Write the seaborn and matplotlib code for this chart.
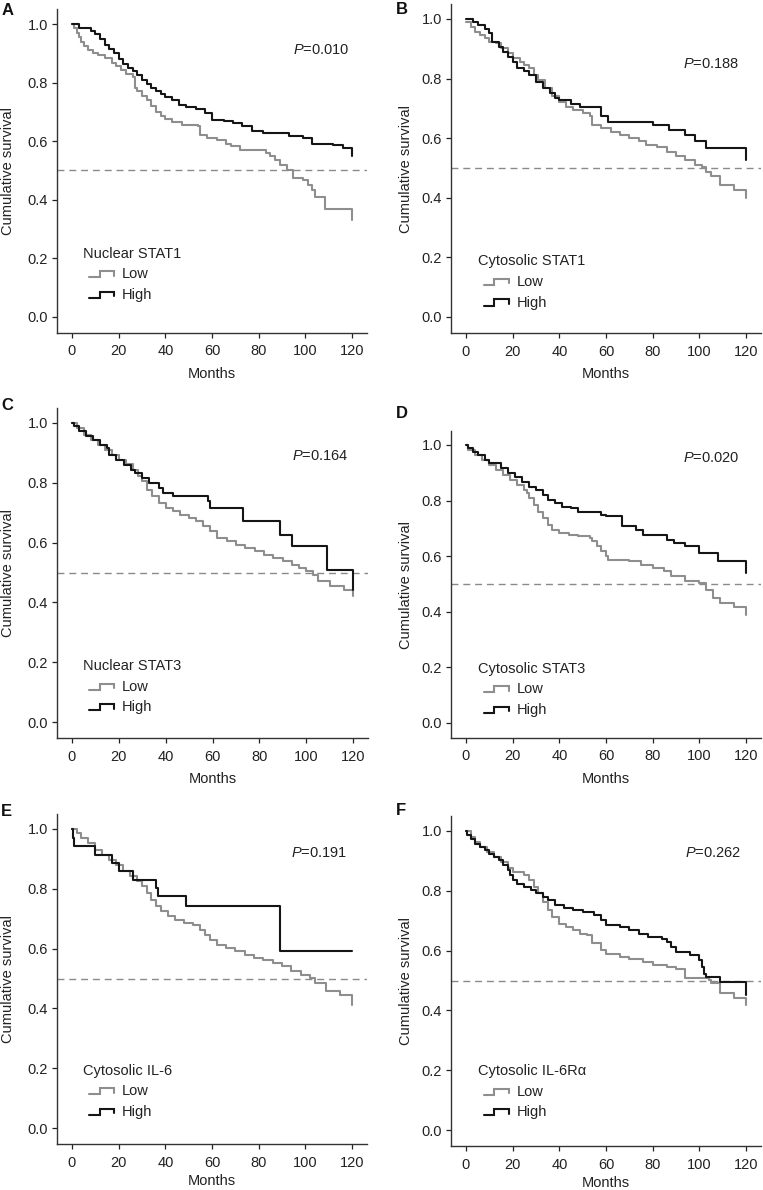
import numpy as np
import pandas as pd
import matplotlib
matplotlib.use("Agg")
import matplotlib.pyplot as plt
import seaborn as sns
from matplotlib.lines import Line2D
from matplotlib.legend_handler import HandlerLine2D

# ---- data (months, cumulative survival) ----
a_low_t = [0, 1, 2, 3, 4, 5, 7, 9, 11, 14, 17, 19, 21, 23, 26, 27, 28, 30, 32, 34, 36, 38, 40, 43, 47,
           54, 55, 58, 62, 66, 68, 72, 78, 83, 85, 87, 89, 92, 94.5, 99, 101, 103, 104, 108.5, 120]
a_low_s = [1.0, 0.985, 0.97, 0.955, 0.94, 0.925, 0.91, 0.9, 0.893, 0.884, 0.867, 0.855, 0.844, 0.83, 0.82,
           0.78, 0.77, 0.755, 0.74, 0.72, 0.70, 0.687, 0.675, 0.667, 0.656, 0.653, 0.622, 0.61, 0.603, 0.59,
           0.582, 0.571, 0.569, 0.56, 0.55, 0.535, 0.52, 0.503, 0.474, 0.468, 0.452, 0.435, 0.41, 0.367, 0.332]
a_high_t = [0, 3, 8, 10, 12, 14, 16, 18, 20, 22, 24, 26, 28, 30, 32, 34, 36, 38, 40, 43, 46, 49, 53, 57,
            60, 65, 69, 73, 77, 82, 93, 99, 103, 112, 116, 120]
a_high_s = [1.0, 0.985, 0.975, 0.965, 0.95, 0.93, 0.915, 0.9, 0.88, 0.865, 0.85, 0.84, 0.825, 0.81, 0.795,
            0.78, 0.77, 0.76, 0.75, 0.74, 0.725, 0.717, 0.71, 0.696, 0.673, 0.668, 0.662, 0.653, 0.634, 0.628,
            0.617, 0.61, 0.592, 0.588, 0.577, 0.548]

b_low_t = [0, 2, 4, 6, 8, 10, 13, 15, 18, 20, 23, 25, 27, 29, 31, 34, 37, 40, 43, 46, 50, 53, 54, 58, 62,
           66, 70, 74, 77, 82, 86, 90, 94, 98, 101, 103, 105, 109, 115, 120]
b_low_s = [0.99, 0.974, 0.958, 0.946, 0.935, 0.924, 0.918, 0.902, 0.885, 0.868, 0.857, 0.846, 0.835, 0.812,
           0.795, 0.768, 0.74, 0.723, 0.706, 0.695, 0.684, 0.673, 0.645, 0.634, 0.622, 0.611, 0.6, 0.589,
           0.578, 0.572, 0.555, 0.539, 0.527, 0.51, 0.505, 0.488, 0.472, 0.444, 0.427, 0.399]
b_high_t = [0, 3, 5, 8, 10, 11, 14, 16, 18, 20, 22, 25, 27, 30, 33, 36, 38, 40, 45, 49, 58, 61, 80, 87,
            94, 98, 103, 120]
b_high_s = [1.0, 0.99, 0.98, 0.968, 0.952, 0.924, 0.907, 0.89, 0.874, 0.857, 0.835, 0.824, 0.812, 0.79,
            0.77, 0.75, 0.734, 0.728, 0.714, 0.704, 0.673, 0.656, 0.645, 0.628, 0.611, 0.589, 0.566, 0.527]

c_low_t = [0, 2, 5, 8, 11, 14, 17, 20, 23, 26, 28, 30, 32, 34, 37, 40, 43, 46, 50, 53, 56, 59, 62, 66, 70,
           74, 78, 82, 86, 90, 94, 97, 100, 103, 105, 110, 116, 120]
c_low_s = [1.0, 0.983, 0.961, 0.944, 0.928, 0.911, 0.894, 0.877, 0.864, 0.844, 0.822, 0.805, 0.777, 0.755,
           0.733, 0.716, 0.705, 0.693, 0.682, 0.671, 0.654, 0.638, 0.615, 0.604, 0.593, 0.582, 0.571, 0.56,
           0.548, 0.537, 0.526, 0.515, 0.504, 0.493, 0.47, 0.454, 0.443, 0.42]
c_high_t = [0, 1, 3, 6, 9, 12, 15, 16, 19, 22, 25, 27, 30, 33, 37, 39, 43, 58, 59, 73, 89, 94, 109, 120]
c_high_s = [1.0, 0.989, 0.972, 0.955, 0.944, 0.928, 0.916, 0.894, 0.877, 0.86, 0.844, 0.833, 0.816, 0.8,
            0.783, 0.766, 0.755, 0.738, 0.716, 0.671, 0.627, 0.588, 0.51, 0.443]

d_low_t = [0, 1, 4, 7, 10, 13, 16, 19, 22, 25, 26, 27, 29, 31, 33, 35, 37, 40, 44, 48, 53, 54, 56, 58, 60,
           61, 70, 75, 80, 85, 88, 94, 100, 103, 106, 109, 115, 120]
d_low_s = [1.0, 0.982, 0.964, 0.946, 0.928, 0.91, 0.892, 0.874, 0.856, 0.838, 0.826, 0.808, 0.784, 0.76,
           0.737, 0.713, 0.695, 0.685, 0.677, 0.671, 0.665, 0.653, 0.635, 0.617, 0.599, 0.587, 0.581, 0.569,
           0.557, 0.545, 0.527, 0.509, 0.503, 0.479, 0.449, 0.431, 0.419, 0.389]
d_high_t = [0, 1, 3, 5, 8, 10, 15, 18, 21, 24, 27, 30, 33, 35, 38, 41, 45, 48, 58, 60, 67, 73, 76, 86, 89,
            94, 100, 108, 120]
d_high_s = [1.0, 0.988, 0.976, 0.964, 0.946, 0.934, 0.916, 0.898, 0.884, 0.868, 0.85, 0.838, 0.82, 0.802,
            0.79, 0.778, 0.772, 0.76, 0.749, 0.743, 0.707, 0.695, 0.677, 0.659, 0.647, 0.635, 0.611, 0.581,
            0.539]

e_low_t = [0, 2, 4, 7, 10, 13, 16, 19, 22, 25, 28, 30, 32, 34, 36, 38, 41, 44, 48, 52, 55, 57, 59, 62, 66,
           70, 74, 78, 82, 86, 90, 94, 98, 102, 104, 109, 115, 120]
e_low_s = [1.0, 0.987, 0.97, 0.953, 0.931, 0.914, 0.897, 0.881, 0.859, 0.842, 0.825, 0.808, 0.786, 0.764,
           0.741, 0.725, 0.708, 0.697, 0.686, 0.68, 0.663, 0.647, 0.63, 0.613, 0.602, 0.591, 0.58, 0.569,
           0.561, 0.552, 0.541, 0.524, 0.513, 0.502, 0.485, 0.457, 0.446, 0.412]
e_high_t = [0, 0.5, 1, 10, 17, 20, 26, 36, 37, 49, 89, 120]
e_high_s = [1.0, 0.97, 0.942, 0.914, 0.886, 0.859, 0.831, 0.803, 0.775, 0.741, 0.591, 0.591]

f_low_t = [0, 2, 4, 6, 9, 12, 15, 18, 20, 25, 27, 29, 31, 33, 35, 37, 40, 43, 46, 49, 52, 54, 58, 60, 66,
           70, 76, 80, 86, 90, 94, 104, 105, 109, 115, 120]
f_low_s = [1.0, 0.98, 0.963, 0.947, 0.93, 0.913, 0.896, 0.877, 0.863, 0.852, 0.835, 0.813, 0.791, 0.763,
           0.735, 0.713, 0.69, 0.679, 0.668, 0.657, 0.651, 0.624, 0.601, 0.59, 0.579, 0.573, 0.562, 0.551,
           0.546, 0.54, 0.507, 0.501, 0.49, 0.457, 0.44, 0.418]
f_high_t = [0, 0.5, 2, 4, 6, 8, 10, 12, 14, 16, 18, 19, 20, 22, 25, 28, 30, 33, 35, 38, 42, 46, 50, 55, 58,
            60, 66, 70, 74, 78, 84, 86, 88, 90, 96, 100, 101, 102, 103, 109, 120]
f_high_s = [1.0, 0.986, 0.974, 0.958, 0.947, 0.935, 0.922, 0.913, 0.902, 0.885, 0.869, 0.852, 0.835, 0.824,
            0.813, 0.802, 0.793, 0.78, 0.768, 0.752, 0.744, 0.737, 0.729, 0.718, 0.702, 0.685, 0.679, 0.668,
            0.657, 0.646, 0.64, 0.629, 0.612, 0.596, 0.585, 0.568, 0.546, 0.523, 0.512, 0.496, 0.451]

panel_letters = ["A", "B", "C", "D", "E", "F"]
legend_titles = ["Nuclear STAT1", "Cytosolic STAT1", "Nuclear STAT3",
                 "Cytosolic STAT3", "Cytosolic IL-6", "Cytosolic IL-6R\u03b1"]
p_values = ["0.010", "0.188", "0.164", "0.020", "0.191", "0.262"]
curves = [(a_low_t, a_low_s, a_high_t, a_high_s), (b_low_t, b_low_s, b_high_t, b_high_s),
          (c_low_t, c_low_s, c_high_t, c_high_s), (d_low_t, d_low_s, d_high_t, d_high_s),
          (e_low_t, e_low_s, e_high_t, e_high_s), (f_low_t, f_low_s, f_high_t, f_high_s)]

# ---- layout (pixel anchors of month 0 / 120 and survival 0 / 1 in each panel) ----
W, H = 763, 1190
anchors = [(72, 352, 317, 24), (466, 746, 317, 19), (72, 353, 722, 423),
           (466, 746, 723, 445), (72, 352, 1128, 829), (466, 746, 1130, 831)]
p_pos = [(119, 0.91), (117, 0.85), (118, 0.89), (117, 0.955), (118, 0.92), (118, 0.925)]
leg_pos = [(4.6, 0.24), (5.0, 0.21), (4.6, 0.21), (5.0, 0.22), (4.6, 0.215), (5.0, 0.22)]
letter_pos = [(2, 3), (396, 2), (1, 398), (396, 406), (1, 804), (396, 803)]
ylab_x = [-0.135, -0.123]
xlab_pad = [6, 6, 6, 6, 3.5, 3]
XLIM = (-6.5, 126.5)
YLIM = (-0.055, 1.05)
FS = 10.5

LOW_C = "#8e8e8e"
HIGH_C = "#151515"
TEXT_C = "#222222"

sns.set_theme(style="ticks")
plt.rcParams["font.family"] = ["Liberation Sans", "DejaVu Sans"]
plt.rcParams["mathtext.fontset"] = "custom"
plt.rcParams["mathtext.it"] = "Liberation Sans:italic"
plt.rcParams["mathtext.rm"] = "Liberation Sans"
plt.rcParams["text.color"] = TEXT_C
plt.rcParams["axes.labelcolor"] = TEXT_C
plt.rcParams["xtick.color"] = TEXT_C
plt.rcParams["ytick.color"] = TEXT_C


class StepHandler(HandlerLine2D):
    # draws a small step shape as the legend key, like in the original figure
    def create_artists(self, legend, orig_handle, xdescent, ydescent, width, height, fontsize, trans):
        xs = np.array([0.2, 0.5, 0.5, 0.92, 0.92]) * width - xdescent
        ys = np.array([0.1, 0.1, 0.7, 0.7, 0.25]) * height - ydescent
        line = Line2D(xs, ys, color=orig_handle.get_color(), lw=orig_handle.get_linewidth(),
                      solid_joinstyle="miter")
        line.set_transform(trans)
        return [line]


fig = plt.figure(figsize=(W / 100, H / 100), dpi=100)

for i in range(6):
    x0, x120, y0, y1 = anchors[i]
    k = (x120 - x0) / 120.0
    m = y0 - y1
    left = x0 + XLIM[0] * k
    right = x0 + XLIM[1] * k
    bottom = y0 - YLIM[0] * m
    top = y0 - YLIM[1] * m
    ax = fig.add_axes([left / W, (H - bottom) / H, (right - left) / W, (bottom - top) / H])

    lt, ls, ht, hs = curves[i]
    df = pd.concat([
        pd.DataFrame({"Months": lt, "Survival": ls, "Group": "Low"}),
        pd.DataFrame({"Months": ht, "Survival": hs, "Group": "High"}),
    ])
    sns.lineplot(data=df, x="Months", y="Survival", hue="Group", hue_order=["Low", "High"],
                 palette={"Low": LOW_C, "High": HIGH_C}, estimator=None, drawstyle="steps-post",
                 linewidth=1.5, legend=False, ax=ax)

    ax.axhline(0.5, color="#8a8a8a", lw=1.0, ls=(0, (5, 3.5)), zorder=0)

    ax.set_xlim(*XLIM)
    ax.set_ylim(*YLIM)
    ax.set_xticks([0, 20, 40, 60, 80, 100, 120])
    ax.set_yticks([0.0, 0.2, 0.4, 0.6, 0.8, 1.0])
    ax.set_yticklabels(["0.0", "0.2", "0.4", "0.6", "0.8", "1.0"])
    ax.tick_params(labelsize=FS, length=3.5, width=0.9)
    ax.tick_params(axis="x", pad=4.5)
    ax.tick_params(axis="y", pad=3)
    ax.set_xlabel("Months", fontsize=FS, labelpad=xlab_pad[i])
    ax.set_ylabel("Cumulative survival", fontsize=FS)
    ax.yaxis.set_label_coords(ylab_x[i % 2], 0.5)
    sns.despine(ax=ax)
    for sp in ["left", "bottom"]:
        ax.spines[sp].set_color("#333333")
        ax.spines[sp].set_linewidth(1.0)

    px, py = p_pos[i]
    ax.text(px, py, "$P$=" + p_values[i], ha="right", va="center", fontsize=FS)

    handles = [Line2D([], [], color=LOW_C, lw=1.5), Line2D([], [], color=HIGH_C, lw=1.5)]
    lx, ly = leg_pos[i]
    leg = ax.legend(handles, ["Low", "High"], title=legend_titles[i], loc="upper left",
                    bbox_to_anchor=(lx, ly), bbox_transform=ax.transData, frameon=False,
                    fontsize=FS, title_fontsize=FS, borderpad=0, borderaxespad=0,
                    handlelength=2.3, handletextpad=0.35, labelspacing=0.45, alignment="left",
                    handler_map={Line2D: StepHandler()})
    leg.get_title().set_color(TEXT_C)

    lxp, lyp = letter_pos[i]
    fig.text(lxp / W, 1 - lyp / H, panel_letters[i], ha="left", va="top",
             fontsize=12, fontweight="bold", color="#111111")

fig.savefig("out.png", dpi=100)
